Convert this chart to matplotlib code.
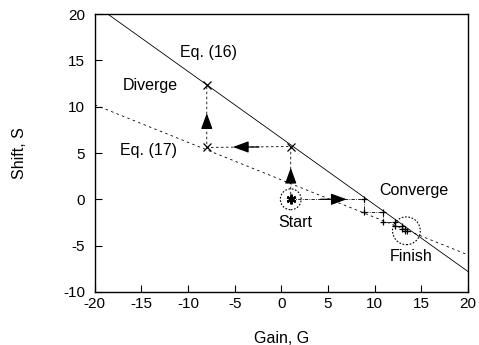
import matplotlib
matplotlib.use("Agg")
import matplotlib.pyplot as plt

plt.rcParams['font.family'] = ['Liberation Sans', 'DejaVu Sans']
plt.rcParams['axes.unicode_minus'] = False

# line end points for the two equations
eq16_g = [-18.6, 20]
eq16_s = [20, -7.8]
eq17_g = [-20, 20]
eq17_s = [10.2, -6.0]

# iteration path that runs away
div_g = [1, 1, -8, -8]
div_s = [0, 5.7, 5.6, 12.4]

# iteration path that settles
conv_g = [1, 8.8, 8.8, 10.9, 10.9, 12.2, 12.2, 12.9, 12.9, 13.3, 13.3, 13.5]
conv_s = [0, 0, -1.4, -1.4, -2.4, -2.4, -2.9, -2.9, -3.2, -3.2, -3.4, -3.4]

start = (1, 0)
finish = (13.4, -3.4)

fig = plt.figure(figsize=(4.79, 3.45), dpi=100)
ax = fig.add_axes([0.198, 0.154, 0.779, 0.805])

ax.plot(eq16_g, eq16_s, color='black', lw=0.6)
ax.plot(eq17_g, eq17_s, color='black', lw=0.6, ls=(0, (3, 4)))

ax.plot(div_g, div_s, color='black', lw=0.6, ls=(0, (3, 3)))
ax.plot(div_g[1:], div_s[1:], 'x', color='black', ms=6, mew=0.9)

ax.plot(conv_g, conv_s, color='black', lw=0.6, ls=(0, (4, 1.5, 1, 1.5)))
ax.plot(conv_g[1:], conv_s[1:], '+', color='black', ms=5, mew=0.9)

# start and finish marks, dotted rings
ax.plot(*start, marker=(6, 2, 0), color='black', ms=7, mew=1.6)
ax.scatter(*start, s=15 ** 2, facecolors='none', edgecolors='black',
           linewidths=0.8, linestyle=(0, (1.5, 1.5)))
ax.scatter(*finish, s=20 ** 2, facecolors='none', edgecolors='black',
           linewidths=0.8, linestyle=(0, (1.5, 1.5)))


def head(tip, direction):
    dx, dy = direction
    ax.annotate('', xy=tip, xytext=(tip[0] - dx, tip[1] - dy),
                arrowprops=dict(arrowstyle='-|>,head_length=0.6,head_width=0.22',
                                color='black', lw=0.9,
                                mutation_scale=16, shrinkA=0, shrinkB=0))


head((1, 3.4), (0, 1.6))
head((-5.2, 5.65), (-2.8, 0))
head((-8, 9.3), (0, 1.6))
head((7.0, 0), (2.8, 0))

fs = 11.5
ax.text(-10.9, 15.9, 'Eq. (16)', fontsize=fs, va='center')
ax.text(-17.0, 12.3, 'Diverge', fontsize=fs, va='center')
ax.text(-17.3, 5.3, 'Eq. (17)', fontsize=fs, va='center')
ax.text(10.5, 1.0, 'Converge', fontsize=fs, va='center')
ax.text(1.5, -2.5, 'Start', fontsize=fs, va='center', ha='center')
ax.text(11.6, -6.2, 'Finish', fontsize=fs, va='center')

ax.set_xlim(-20, 20)
ax.set_ylim(-10, 20)
ax.set_xticks(range(-20, 21, 5))
ax.set_yticks(range(-10, 21, 5))
ax.tick_params(direction='in', length=5, width=0.8, labelsize=11)
ax.tick_params(axis='y', pad=7)
ax.tick_params(axis='x', pad=4)
for sp in ax.spines.values():
    sp.set_linewidth(1.0)

ax.set_xlabel('Gain, G', fontsize=fs, labelpad=14)
ax.set_ylabel('Shift, S', fontsize=fs, labelpad=26)

fig.savefig('out.png', dpi=100)
